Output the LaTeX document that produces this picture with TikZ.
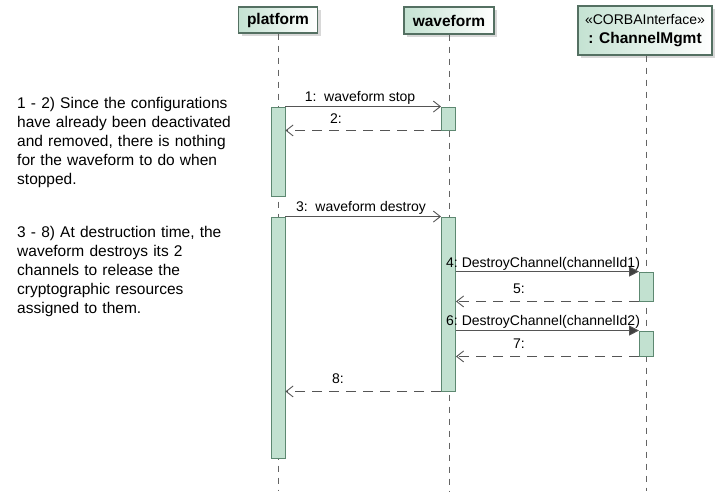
\documentclass[tikz,border=0pt]{standalone}
\usepackage{fontspec}
\setmainfont{Liberation Sans}
\usetikzlibrary{arrows.meta,shadows}

\definecolor{hdrfill}{RGB}{196,226,210}
\definecolor{hdrdraw}{RGB}{84,112,98}
\definecolor{actfill}{RGB}{194,225,208}
\definecolor{actdraw}{RGB}{93,136,113}
\definecolor{lifegray}{RGB}{100,100,100}
\definecolor{msggray}{RGB}{85,85,85}

\tikzset{
  header/.style={draw=hdrdraw, line width=1.2pt, left color=hdrfill, right color=white,
    drop shadow={shadow xshift=3pt, shadow yshift=-3pt, fill=black!30, opacity=.5},
    inner sep=0pt, font=\fontsize{15.5}{17}\selectfont\bfseries},
  lifeline/.style={draw=lifegray, line width=0.7pt, dash pattern=on 6pt off 6pt},
  activation/.style={draw=actdraw, fill=actfill, line width=0.9pt, inner sep=0pt,
    minimum width=14pt},
  call/.style={draw=msggray, line width=0.9pt, -{Straight Barb[length=7pt,width=11pt,line width=0.9pt]}},
  synccall/.style={draw=msggray, line width=0.9pt, -{Triangle[length=10pt,width=10pt,fill=black!75]}},
  reply/.style={draw=msggray, line width=0.9pt, dash pattern=on 10pt off 7pt,
    -{Straight Barb[length=7pt,width=11pt,line width=0.9pt]}},
  msglabel/.style={font=\fontsize{14}{16}\selectfont, inner sep=0pt, anchor=base},
  note/.style={font=\fontsize{15.5}{19.2}\selectfont, inner sep=0pt, anchor=base west,
    align=left, text width=230pt}
}

\begin{document}
\begin{tikzpicture}[x=1pt, y=-1pt]
  \useasboundingbox (0,0) rectangle (726,491);

  % lifeline heads
  \node[header, minimum width=79pt, minimum height=26pt] (platform) at (278,20) {platform};
  \node[header, minimum width=90pt, minimum height=27pt] (waveform) at (449,20.5) {waveform};
  \node[header, minimum width=134pt, minimum height=49pt, align=center] (chmgmt) at (645,30.5)
    {{\fontsize{14}{16}\mdseries\selectfont «CORBAInterface»}\\[2pt] : ChannelMgmt};

  % lifeline ends
  \coordinate (platformEnd) at (278,491);
  \coordinate (waveformEnd) at (449,491);
  \coordinate (chmgmtEnd) at (646.5,491);

  \draw[lifeline] (platform.south) -- (platformEnd);
  \draw[lifeline] (waveform.south) -- (waveformEnd);
  \draw[lifeline] (chmgmt.south -| chmgmtEnd) -- (chmgmtEnd);

  % activation bars
  \node[activation, minimum height=89pt] (pA) at (278,151.5) {};
  \node[activation, minimum height=23pt] (wA) at (448.5,118.5) {};
  \node[activation, minimum height=241pt] (pB) at (278,337.5) {};
  \node[activation, minimum height=174pt] (wB) at (448.5,304) {};
  \node[activation, minimum height=29pt] (cA) at (646.5,286.5) {};
  \node[activation, minimum height=25pt] (cB) at (646.5,343.5) {};

  % stop
  \draw[call] (pA.north east) -- (wA.north west);
  \node[msglabel] (m1) at (360,101) {1:\ \ waveform stop};
  \draw[reply] (wA.south west) -- (pA.east |- wA.south);
  \node[msglabel] (m2) at (336,123) {2:};

  % destroy
  \draw[call] (pB.north east) -- (wB.north west);
  \node[msglabel] (m3) at (361,211) {3:\ \ waveform destroy};

  \draw[synccall] (wB.east |- cA.north) -- (cA.north west);
  \node[msglabel, anchor=base west] (m4) at (446,267) {4:\ DestroyChannel(channelId1)};
  \draw[reply] (cA.south west) -- (wB.east |- cA.south);
  \node[msglabel] (m5) at (519,293) {5:};

  \draw[synccall] (wB.east |- cB.north) -- (cB.north west);
  \node[msglabel, anchor=base west] (m6) at (446,325) {6:\ DestroyChannel(channelId2)};
  \draw[reply] (cB.south west) -- (wB.east |- cB.south);
  \node[msglabel] (m7) at (519,348) {7:};

  \draw[reply] (wB.south west) -- (pB.east |- wB.south);
  \node[msglabel] (m8) at (338,383) {8:};

  % side notes
  \node[note] (note1) at (17,108) {1 - 2) Since the configurations\\have already been deactivated\\and removed, there is nothing\\for the waveform to do when\\stopped.};
  \node[note] (note2) at (17,237) {3 - 8) At destruction time, the\\waveform destroys its 2\\channels to release the\\cryptographic resources\\assigned to them.};
\end{tikzpicture}
\end{document}
